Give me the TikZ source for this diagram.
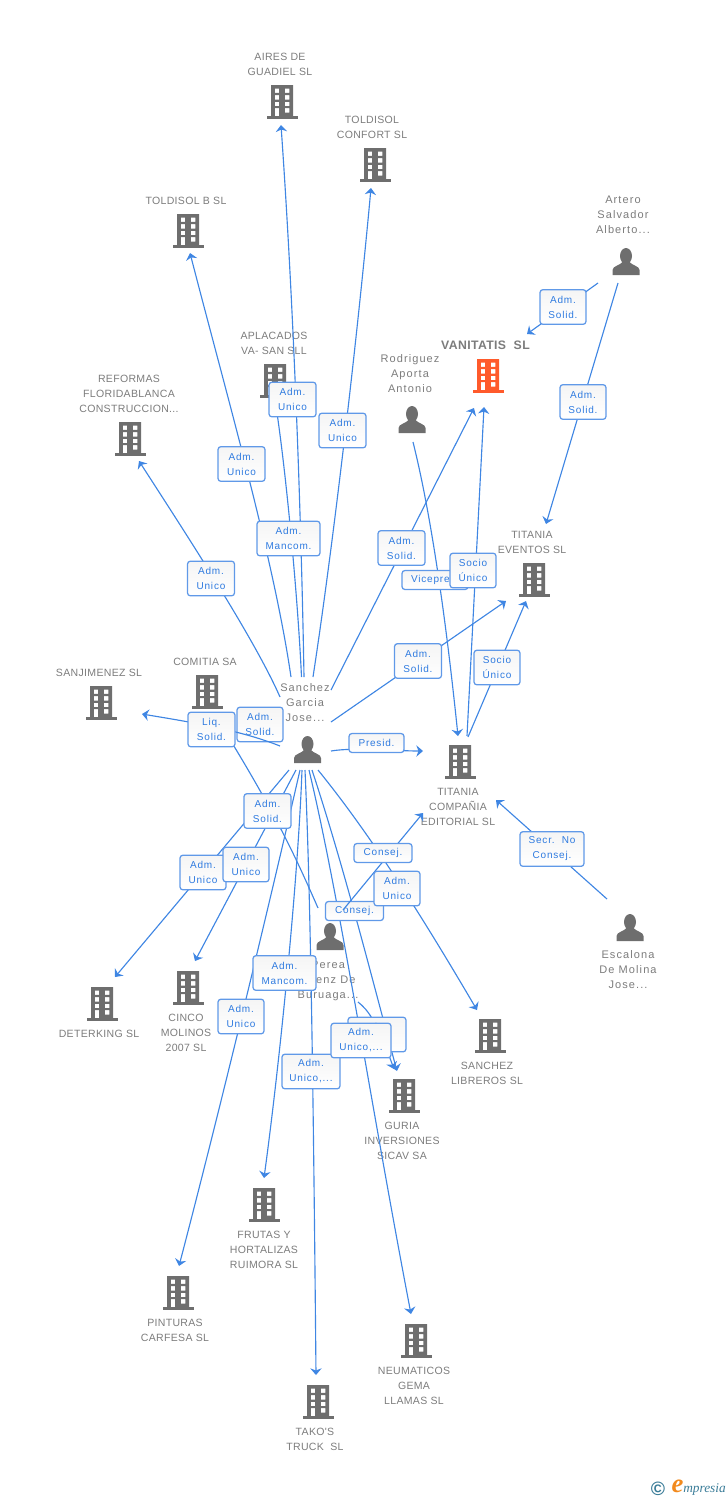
\documentclass[tikz,border=0pt]{standalone}
\usepackage{fontspec}
\setmainfont{Liberation Sans}
\newfontfamily\entfont[LetterSpace=3]{Liberation Sans}
\newfontfamily\perfont[LetterSpace=10]{Liberation Sans}
\newfontfamily\labfont[LetterSpace=8]{Liberation Sans}
\newfontfamily\logofont{Liberation Serif}
\usetikzlibrary{arrows.meta,calc}
\definecolor{iconGrey}{HTML}{6E6E6E}
\definecolor{textGrey}{HTML}{7C7C7C}
\definecolor{linkBlue}{HTML}{3F86E3}
\definecolor{labBlue}{HTML}{2F7BE0}
\definecolor{labEdge}{HTML}{6099E8}
\definecolor{hotOrange}{HTML}{FF5A2B}
\definecolor{logoTeal}{HTML}{3A7C98}
\definecolor{logoOrange}{HTML}{F28A1E}
\tikzset{
  x=0.75pt,y=-0.75pt,
  iconbox/.style={inner sep=0pt,minimum width=24pt,minimum height=26pt},
  enttxt/.style={inner sep=0pt,yshift=-0.5pt,align=center,text=textGrey,font=\entfont\fontsize{7.9}{11.25}\selectfont},
  pertxt/.style={inner sep=0pt,yshift=-0.5pt,align=center,text=textGrey,font=\perfont\fontsize{8.25}{11.25}\selectfont},
  link/.style={draw=linkBlue,line width=0.85pt,-{Stealth[length=5pt,width=8.5pt,inset=1.6pt]}},
  plainlink/.style={draw=linkBlue,line width=0.85pt},
  lab/.style={rounded corners=2.2pt,draw=labEdge,line width=0.95pt,top color=white!96!black,bottom color=white,
    inner sep=0pt,align=center,text=labBlue,font=\labfont\fontsize{7.5}{11.25}\selectfont,minimum height=26pt},
  labone/.style={lab,minimum height=14.25pt},
}
\newcommand\bldg[4][iconGrey]{%
  \node[iconbox] (#2) at (#3,#4) {};
  \begin{scope}[shift={(#3,#4)}]
    \fill[#1,even odd rule] (-11,-17) rectangle (11,15)
      (-7.2,-13.5) rectangle (-2.8,-9.1) (2.9,-13.5) rectangle (7.3,-9.1)
      (-7.2,-6.9) rectangle (-2.8,-2.5) (2.9,-6.9) rectangle (7.3,-2.5)
      (-7.2,-0.2) rectangle (-2.8,4.2) (2.9,-0.2) rectangle (7.3,4.2)
      (-7.2,6.2) rectangle (-2.8,14) (2.9,6.2) rectangle (7.3,10.6);
    \fill[#1] (-15.5,14) rectangle (15.5,16.5);
  \end{scope}}
\newcommand\persn[3]{%
  \node[iconbox] (#1) at (#2,#3) {};
  \begin{scope}[shift={(#2,#3)}]
    \fill[iconGrey] (0,-6) circle [x radius=6,y radius=8];
    \fill[iconGrey] (-13.5,13) -- (-13.5,8) .. controls (-13.5,4) and (-6,3.5) .. (-3.5,0)
      -- (3.5,0) .. controls (6,3.5) and (13.5,4) .. (13.5,8) -- (13.5,13) -- cycle;
  \end{scope}}
\newcommand\lnk[3]{\coordinate (#1-a) at (#2); \coordinate (#1-b) at (#3); \draw[link] (#1-a) -- (#1-b);}
% curved connector: id, start, control 1, control 2, end
\newcommand\crv[5]{\coordinate (#1-a) at (#2); \coordinate (#1-b) at (#5); \draw[link] (#1-a) .. controls (#3) and (#4) .. (#1-b);}
\newcommand\lab[4]{\node[lab,minimum width=#3*0.75pt] (#1-l) at (#2) {#4};}
\newcommand\labo[4]{\node[labone,minimum width=#3*0.75pt] (#1-l) at (#2) {#4};}
\begin{document}
\begin{tikzpicture}
\useasboundingbox (0,0) rectangle (728,1500);
% ---- buildings and their names
\bldg{aires}{282}{102}
\node[enttxt] (aires-t) at (280,63.5) {AIRES DE\\GUADIEL SL};
\bldg{confort}{375}{165}
\node[enttxt] (confort-t) at (372,126.5) {TOLDISOL\\CONFORT SL};
\bldg{toldb}{188}{231}
\node[enttxt] (toldb-t) at (186,200) {TOLDISOL B SL};
\bldg{aplac}{275}{381}
\node[enttxt] (aplac-t) at (274,342.5) {APLACADOS\\VA- SAN SLL};
\bldg{reform}{130}{439}
\node[enttxt] (reform-t) at (129,393) {REFORMAS\\FLORIDABLANCA\\CONSTRUCCION...};
\bldg[hotOrange]{vanit}{488}{376}
\node[inner sep=0pt,yshift=-0.5pt,text=textGrey,font=\bfseries\entfont\fontsize{9.2}{11.25}\selectfont] (vanit-t) at (485.5,345) {VANITATIS\ \ SL};
\bldg{event}{534}{580}
\node[enttxt] (event-t) at (532,541.5) {TITANIA\\EVENTOS SL};
\bldg{comit}{207}{692}
\node[enttxt] (comit-t) at (205,661) {COMITIA SA};
\bldg{sanj}{101}{703}
\node[enttxt] (sanj-t) at (99,672) {SANJIMENEZ SL};
\bldg{comp}{460}{762}
\node[enttxt] (comp-t) at (458,806) {TITANIA\\COMPAÑIA\\EDITORIAL SL};
\bldg{deter}{102}{1004}
\node[enttxt] (deter-t) at (99,1033) {DETERKING SL};
\bldg{cinco}{188}{988}
\node[enttxt] (cinco-t) at (186,1032) {CINCO\\MOLINOS\\2007 SL};
\bldg{sanlib}{490}{1036}
\node[enttxt] (sanlib-t) at (487,1072.5) {SANCHEZ\\LIBREROS SL};
\bldg{guria}{404}{1096}
\node[enttxt] (guria-t) at (402,1140) {GURIA\\INVERSIONES\\SICAV SA};
\bldg{frutas}{264}{1205}
\node[enttxt] (frutas-t) at (264,1249) {FRUTAS Y\\HORTALIZAS\\RUIMORA SL};
\bldg{pint}{178}{1293}
\node[enttxt] (pint-t) at (175,1329.5) {PINTURAS\\CARFESA SL};
\bldg{neum}{416}{1341}
\node[enttxt] (neum-t) at (414,1385) {NEUMATICOS\\GEMA\\LLAMAS SL};
\bldg{tako}{318}{1402}
\node[enttxt] (tako-t) at (315,1438.5) {TAKO'S\\TRUCK\ \ SL};
% ---- people and their names
\persn{rodr}{412}{420}
\node[pertxt] (rodr-t) at (410,373) {Rodriguez\\Aporta\\Antonio};
\persn{arte}{626}{262}
\node[pertxt] (arte-t) at (623,214) {Artero\\Salvador\\Alberto...};
\persn{sanch}{307.5}{750}
\node[pertxt] (sanch-t) at (305,702) {Sanchez\\Garcia\\Jose...};
\persn{esca}{630}{928}
\node[pertxt] (esca-t) at (628,969) {Escalona\\De Molina\\Jose...};
\persn{perea}{330}{937}
\node[pertxt] (perea-t) at (328,980) {Perea\\Saenz De\\Buruaga...};
% ---- connectors from Sanchez, upwards
\crv{e1}{304,677}{302,560}{296,340}{281,125}
\crv{e2}{301.5,677}{298,600}{286,470}{275,400}
\crv{e4}{291,677}{274,560}{228,400}{190,253}
\lab{e4}{241.5,464}{47}{Adm.\\Unico}
\lab{e2}{288.5,538.5}{63}{Adm.\\Mancom.}
\lab{e1}{292.5,399.5}{47}{Adm.\\Unico}
\crv{e3}{313,677}{334,540}{358,330}{371,188}
\lab{e3}{342.5,430.5}{47}{Adm.\\Unico}
\crv{e5}{280,697}{255,640}{190,540}{139,461}
\lab{e5}{211,578.5}{47}{Adm.\\Unico}
\lnk{e6}{331,690}{474,408}
\lab{e6}{401.5,548}{47}{Adm.\\Solid.}
\lnk{e7}{331,722}{506,601}
\lab{e7}{418,661}{47}{Adm.\\Solid.}
\crv{e8}{331,751}{355,747}{395,751}{423,751}
\labo{e8}{376.5,743}{55}{Presid.}
% ---- connectors from Sanchez, downwards
\lnk{d1}{289,770}{115,977}
\lnk{d2}{296,770}{195,961}
\lab{d1}{203,872.5}{46}{Adm.\\Unico}
\lab{d2}{246,864.5}{46}{Adm.\\Unico}
\crv{d3}{300,770}{275,880}{225,1090}{179,1266}
\crv{d5}{305,770}{310,880}{313,1050}{316,1375}
\crv{d4}{302,770}{298,880}{280,1060}{264,1178}
\lab{d3}{241,1016.5}{46}{Adm.\\Unico}
\lab{d4}{284.5,973}{63}{Adm.\\Mancom.}
\lab{d5}{311,1071.5}{58}{Adm.\\Unico,...}
\crv{d7}{312,770}{345,870}{375,990}{397,1071}
\crv{d6}{309,770}{340,900}{370,1100}{411,1314}
\labo{d7}{354.5,911}{58}{Consej.}
\crv{d8}{318,770}{375,840}{430,930}{477,1010}
% ---- from Perea
\lnk{p1}{343,910}{423,813}
\labo{p1}{383,853}{58}{Consej.}
\lab{d8}{397,888.5}{46}{Adm.\\Unico}
\crv{p2}{358,1002}{368,1010}{376,1020}{394,1069}
\lab{p2}{377,1034.5}{58}{Adm.\\Solid.}
\lab{d6}{361,1040.5}{60}{Adm.\\Unico,...}
\coordinate (p3-a) at (318,908); \coordinate (p3-b) at (226,733);
\lab{e9}{260,724.5}{46}{Adm.\\Solid.}
\draw[plainlink] (p3-a) .. controls (296,858) and (278,818) .. (p3-b);
\lab{p3}{267.5,811}{47}{Adm.\\Solid.}
\crv{e10}{280,746}{240,730}{190,722}{142,714}
\lab{e10}{211.5,729.5}{47}{Liq.\\Solid.}
% ---- right-hand connectors
\crv{r1}{413,442}{430,510}{445,610}{458,736}
\labo{r1}{435,580}{66}{Vicepres.}
\lnk{c1}{467,736}{484,407}
\lab{c1}{473,570.5}{46}{Socio\\Único}
\lnk{c2}{468,737}{526,601}
\lab{c2}{497,667.5}{46}{Socio\\Único}
\lnk{a1}{598,283}{527,334}
\lab{a1}{563,307}{46}{Adm.\\Solid.}
\lnk{a2}{618,283}{546,524}
\lab{a2}{583,402}{46}{Adm.\\Solid.}
\lnk{s1}{607,899}{496,800}
\lab{s1}{552,849}{64}{Secr.\ \ No\\Consej.}
% ---- logo
\node[inner sep=0pt,text=logoTeal,font=\bfseries\fontsize{14.5}{14.5}\selectfont] (logoC) at (658,1488.5) {©};
\node[inner sep=0pt,text=logoOrange,font=\logofont\bfseries\itshape\fontsize{20}{20}\selectfont] (logoE) at (677.5,1486) {e};
\node[inner sep=0pt,text=logoTeal,font=\logofont\itshape\fontsize{10}{10}\selectfont,anchor=west] (logoM) at (683,1489.5) {mpresia};
\end{tikzpicture}
\end{document}
